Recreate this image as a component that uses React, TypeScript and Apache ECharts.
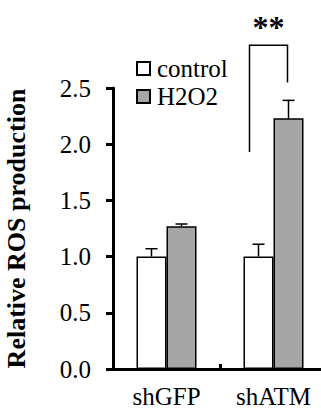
import React, { useEffect, useRef } from "react";
import * as echarts from "echarts";

const categories = ["shGFP", "shATM"];
const seriesNames = ["control", "H2O2"];
const controlValues = [1.0, 1.0];
const controlErrors = [0.07, 0.11];
const h2o2Values = [1.27, 2.23];
const h2o2Errors = [0.02, 0.16];
const yMin = 0;
const yMax = 2.5;
const yInterval = 0.5;
// significance bracket on category index 1: [left leg bottom, bracket top, right leg bottom, star level]
const bracketCategory = 1;
const bracketLevels = [1.93, 2.88, 2.55, 3.04];
const bracketLabel = "**";

const FONT = "Liberation Serif";
const BAR_W = 30;

export default function App() {
  const ref = useRef<HTMLDivElement>(null);
  useEffect(() => {
    const chart = echarts.init(ref.current!, null, { renderer: "svg" });

    const errRender = (offset: number) => (params: any, api: any) => {
      const x = api.value(0);
      const v = api.value(1);
      const e = api.value(2);
      const p0 = api.coord([x, v]);
      const p1 = api.coord([x, v + e]);
      const cx = p0[0] + offset;
      const style = { stroke: "#000", lineWidth: 1.5, fill: "none" };
      return {
        type: "group",
        children: [
          { type: "line", shape: { x1: cx, y1: p0[1], x2: cx, y2: p1[1] }, style },
          { type: "line", shape: { x1: cx - 6, y1: p1[1], x2: cx + 6, y2: p1[1] }, style },
        ],
      };
    };

    const option: any = {
      animation: false,
      textStyle: { fontFamily: FONT },
      grid: {
        left: 113,
        right: -6,
        top: 88,
        bottom: 43,
        containLabel: false,
        outerBoundsMode: "none",
      },
      legend: {
        orient: "vertical",
        left: 131,
        top: 51,
        icon: "rect",
        itemWidth: 13,
        itemHeight: 13,
        itemGap: 3,
        selectedMode: false,
        textStyle: { fontFamily: FONT, fontSize: 25, color: "#000", padding: [0, 0, 0, 2] },
        data: seriesNames,
      },
      xAxis: {
        type: "category",
        data: categories,
        axisLine: { lineStyle: { color: "#000", width: 3 } },
        axisTick: { show: true, inside: true, length: 5, lineStyle: { color: "#000", width: 3 } },
        axisLabel: { color: "#000", fontFamily: FONT, fontSize: 25, margin: 15 },
        splitLine: { show: false },
      },
      yAxis: {
        type: "value",
        min: yMin,
        max: yMax,
        interval: yInterval,
        name: "Relative ROS production",
        nameLocation: "middle",
        nameRotate: 90,
        nameGap: 84,
        nameTextStyle: { fontFamily: FONT, fontSize: 26, fontWeight: "bold", color: "#000" },
        axisLine: { show: true, lineStyle: { color: "#000", width: 3 } },
        axisTick: { show: true, length: 7, lineStyle: { color: "#000", width: 3 } },
        axisLabel: {
          color: "#000",
          fontFamily: FONT,
          fontSize: 25,
          margin: 22,
          formatter: (v: number) => v.toFixed(1),
        },
        splitLine: { show: false },
      },
      series: [
        {
          name: seriesNames[0],
          type: "bar",
          barWidth: BAR_W,
          barGap: "0%",
          data: controlValues,
          itemStyle: { color: "#ffffff", borderColor: "#000", borderWidth: 1.5 },
        },
        {
          name: seriesNames[1],
          type: "bar",
          barWidth: BAR_W,
          barGap: "0%",
          data: h2o2Values,
          itemStyle: { color: "#a6a6a6", borderColor: "#000", borderWidth: 1.5 },
        },
        {
          type: "custom",
          z: 5,
          clip: false,
          renderItem: errRender(-BAR_W / 2),
          data: controlValues.map((v, i) => [i, v, controlErrors[i]]),
        },
        {
          type: "custom",
          z: 5,
          clip: false,
          renderItem: errRender(BAR_W / 2),
          data: h2o2Values.map((v, i) => [i, v, h2o2Errors[i]]),
        },
        {
          type: "custom",
          z: 5,
          clip: false,
          renderItem: (params: any, api: any) => {
            const x = api.value(0);
            const a = api.coord([x, api.value(1)]);
            const b = api.coord([x, api.value(2)]);
            const c = api.coord([x, api.value(3)]);
            const s = api.coord([x, api.value(4)]);
            const lx = a[0] - 24;
            const rx = a[0] + 14;
            return {
              type: "group",
              children: [
                {
                  type: "polyline",
                  shape: { points: [[lx, a[1]], [lx, b[1]], [rx, b[1]], [rx, c[1]]] },
                  style: { stroke: "#000", lineWidth: 1.5, fill: "none" },
                },
                {
                  type: "text",
                  x: (lx + rx) / 2,
                  y: s[1],
                  style: {
                    text: bracketLabel,
                    fontFamily: FONT,
                    fontSize: 32,
                    fontWeight: "bold",
                    fill: "#000",
                    align: "center",
                    verticalAlign: "middle",
                  },
                },
              ],
            };
          },
          data: [[bracketCategory, ...bracketLevels]],
        },
      ],
    };
    chart.setOption(option);
    return () => chart.dispose();
  }, []);
  return (
    <div
      ref={ref}
      style={{ position: "fixed", left: 0, top: 0, width: 321, height: 412, background: "#fff" }}
    />
  );
}
